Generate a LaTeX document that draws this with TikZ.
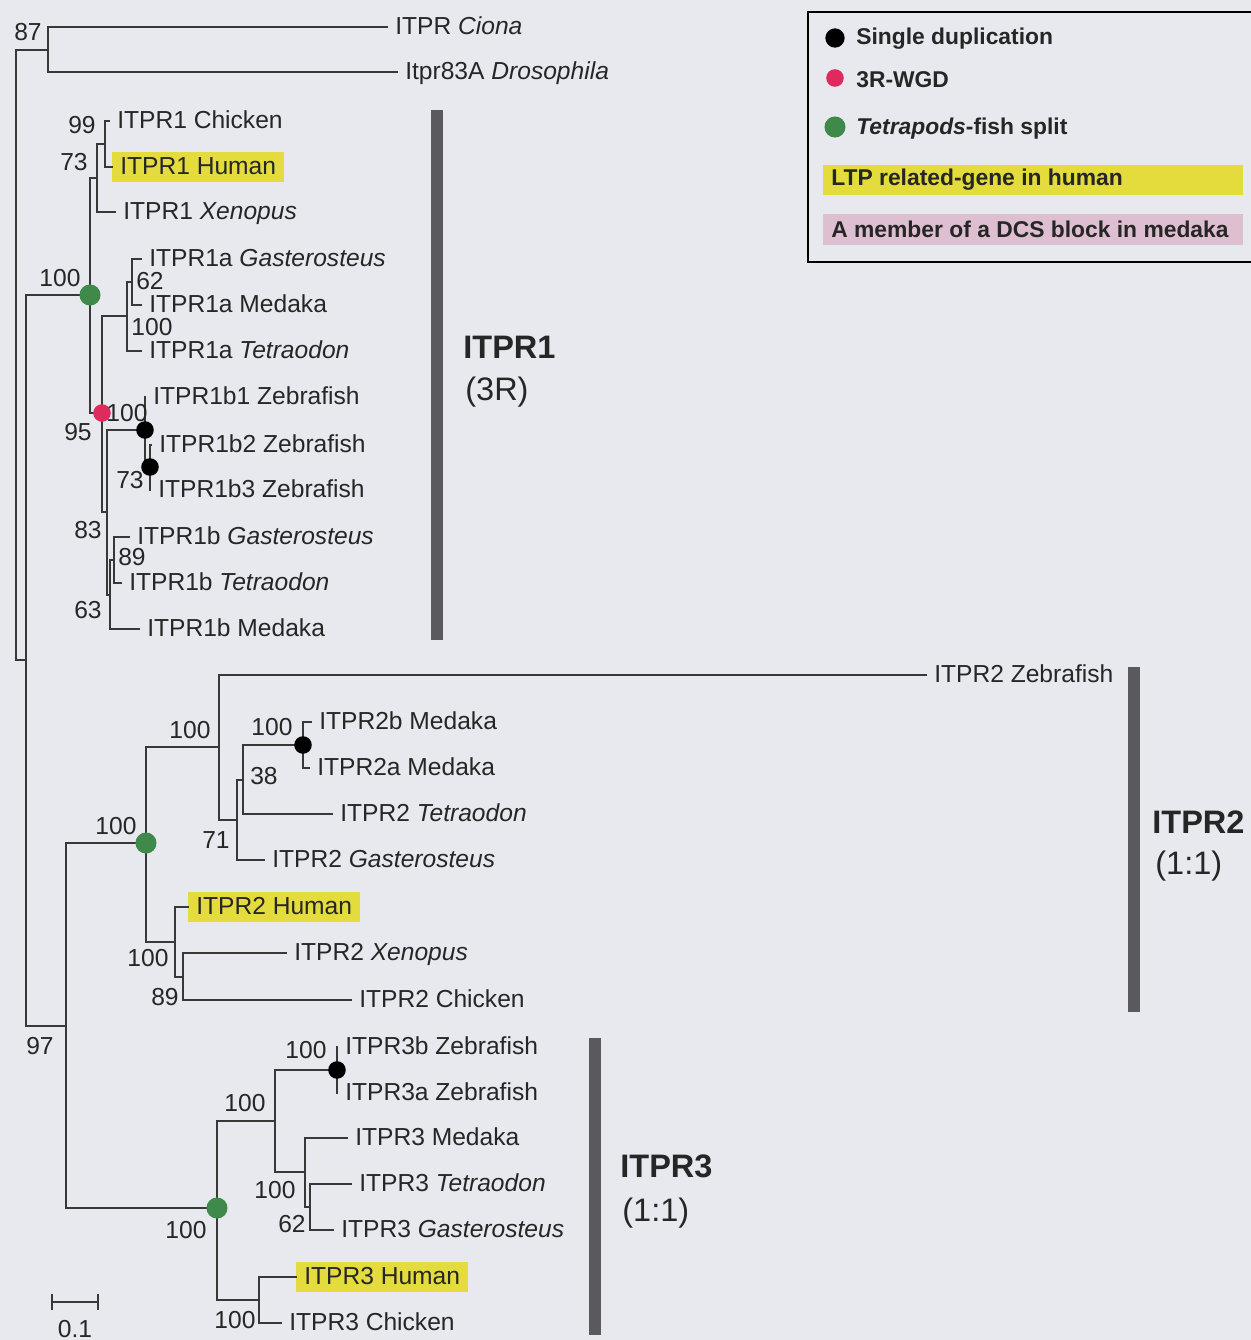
\documentclass[tikz,border=0pt]{standalone}
\usepackage{fontspec}
\setmainfont{Liberation Sans}
\usepackage{xcolor}
\usepackage{tikz}

\definecolor{bgcol}{HTML}{E7E9EE}
\definecolor{hlyellow}{HTML}{E3DC3C}
\definecolor{hlpink}{HTML}{DEBFD2}
\definecolor{splitgreen}{HTML}{3F8A4B}
\definecolor{wgdred}{HTML}{DE2A5C}
\definecolor{barcol}{HTML}{5A5A5E}
\definecolor{linecol}{HTML}{383838}

\begin{document}
\begin{tikzpicture}[x=0.02cm,y=-0.02cm,
  every node/.style={font=\fontsize{14}{16}\selectfont,text=black!85},
  branch/.style={draw=linecol,line width=1.3pt,line cap=rect},
  leaf/.style={anchor=west,inner xsep=4.5pt,inner ysep=2pt,text height=11pt,text depth=2pt},
  hl/.style={leaf,fill=hlyellow},
  boot/.style={inner sep=0pt},
  cladebar/.style={draw=barcol,line width=6.8pt},
  clade/.style={anchor=west,inner sep=0pt,font=\fontsize{18.5}{22}\selectfont\bfseries},
  cladesub/.style={anchor=west,inner sep=0pt,font=\fontsize{18.5}{22}\selectfont},
  legtext/.style={anchor=west,inner sep=0pt,font=\fontsize{13}{15}\selectfont\bfseries}]
  \fill[bgcol] (0,0) rectangle (1251,1340);
  \useasboundingbox (0,0) rectangle (1251,1340);
  % inner nodes of the tree
  \coordinate (root) at (16,355);
  \coordinate (inv) at (48,50);
  \coordinate (vert) at (26,660);
  \coordinate (g1) at (90,295);
  \coordinate (n73) at (97,178);
  \coordinate (n99) at (105,144);
  \coordinate (r) at (102,413);
  \coordinate (n1a) at (127,316);
  \coordinate (n62) at (132,282);
  \coordinate (n83) at (107,512);
  \coordinate (z1) at (145,430);
  \coordinate (z2) at (150,467);
  \coordinate (n63) at (110,595);
  \coordinate (n89) at (114,560);
  \coordinate (n97) at (66,1026);
  \coordinate (g2) at (146,843);
  \coordinate (n2f) at (219,747);
  \coordinate (n71) at (237,820);
  \coordinate (n38) at (243,780);
  \coordinate (n2m) at (303,745);
  \coordinate (n2t) at (175,942);
  \coordinate (n289) at (183,977);
  \coordinate (g3) at (217,1208);
  \coordinate (n3f) at (275,1121);
  \coordinate (n3z) at (337,1070);
  \coordinate (n3m) at (305,1172);
  \coordinate (n362) at (310,1207);
  \coordinate (n3t) at (259,1300);
  % leaves
  \node[leaf] (cio) at (387,27) {ITPR \textit{Ciona}};
  \node[leaf] (dro) at (397,72) {Itpr83A \textit{Drosophila}};
  \node[leaf] (c1) at (109,121) {ITPR1 Chicken};
  \node[hl] (h1) at (112,167) {ITPR1 Human};
  \node[leaf] (x1) at (115,212) {ITPR1 \textit{Xenopus}};
  \node[leaf] (ag) at (141,259) {ITPR1a \textit{Gasterosteus}};
  \node[leaf] (am) at (141,305) {ITPR1a Medaka};
  \node[leaf] (at) at (141,351) {ITPR1a \textit{Tetraodon}};
  \node[leaf] (zb1) at (145,397) {ITPR1b1 Zebrafish};
  \node[leaf] (zb2) at (151,445) {ITPR1b2 Zebrafish};
  \node[leaf] (zb3) at (150,490) {ITPR1b3 Zebrafish};
  \node[leaf] (bg) at (129,537) {ITPR1b \textit{Gasterosteus}};
  \node[leaf] (bt) at (121,583) {ITPR1b \textit{Tetraodon}};
  \node[leaf] (bm) at (139,629) {ITPR1b Medaka};
  \node[leaf] (z2z) at (926,675) {ITPR2 Zebrafish};
  \node[leaf] (m2b) at (311,722) {ITPR2b Medaka};
  \node[leaf] (m2a) at (309,768) {ITPR2a Medaka};
  \node[leaf] (t2) at (332,814) {ITPR2 \textit{Tetraodon}};
  \node[leaf] (gs2) at (264,860) {ITPR2 \textit{Gasterosteus}};
  \node[hl] (h2) at (188,907) {ITPR2 Human};
  \node[leaf] (x2) at (286,953) {ITPR2 \textit{Xenopus}};
  \node[leaf] (c2) at (351,1000) {ITPR2 Chicken};
  \node[leaf] (z3b) at (337,1047) {ITPR3b Zebrafish};
  \node[leaf] (z3a) at (337,1093) {ITPR3a Zebrafish};
  \node[leaf] (m3) at (347,1138) {ITPR3 Medaka};
  \node[leaf] (t3) at (351,1184) {ITPR3 \textit{Tetraodon}};
  \node[leaf] (gs3) at (333,1230) {ITPR3 \textit{Gasterosteus}};
  \node[hl] (h3) at (296,1277) {ITPR3 Human};
  \node[leaf] (c3) at (281,1323) {ITPR3 Chicken};
  % branches
  \foreach \p/\c in {root/inv,root/vert,vert/g1,vert/n97,g1/n73,g1/r,n73/n99,r/n1a,r/n83,
    n1a/n62,n83/z1,n83/n63,z1/z2,n63/n89,n97/g2,n97/g3,g2/n2f,g2/n2t,n2f/n71,n71/n38,
    n38/n2m,n2t/n289,g3/n3f,g3/n3t,n3f/n3z,n3f/n3m,n3m/n362}
    \draw[branch] (\p) |- (\c);
  \foreach \p/\c in {inv/cio,inv/dro,n99/c1,n99/h1,n73/x1,n62/ag,n62/am,n1a/at,z1/zb1,
    z2/zb2,z2/zb3,n89/bg,n89/bt,n63/bm,n2f/z2z,n2m/m2b,n2m/m2a,n38/t2,n71/gs2,n2t/h2,
    n289/x2,n289/c2,n3z/z3b,n3z/z3a,n3m/m3,n362/t3,n362/gs3,n3t/h3,n3t/c3}
    \draw[branch] (\p) |- (\c.west);
  % events
  \foreach \pt in {g1,g2,g3} {\fill[splitgreen] (\pt) circle (6pt);}
  \foreach \pt in {z1,z2,n2m,n3z} {\fill[black] (\pt) circle (5pt);}
  \fill[wgdred] (r) circle (5pt);
  % bootstrap values
  \foreach \n/\x/\y/\t in {b87/28/32/87,b99/82/125/99,b73/74/162/73,bg1/60/278/100,
    b62/150/281/62,b1a/152/327/100,bz1/127/413/100,b95/78/432/95,bz2/130/480/73,
    b83/88/530/83,b89/132/557/89,b63/88/610/63,b2f/190/730/100,b2m/272/727/100,
    b38/264/776/38,bg2/116/826/100,b71/216/840/71,b2t/148/958/100,b289/165/997/89,
    b97/40/1046/97,b3z/306/1050/100,b3f/245/1103/100,b3m/275/1190/100,
    b362/292/1224/62,bg3/186/1230/100,b3t/235/1320/100}
    \node[boot] (\n) at (\x,\y) {\t};
  % scale bar
  \draw[branch,line cap=butt] (52,1294) -- (52,1310) (52,1302) -- (98,1302) (98,1294) -- (98,1310);
  \node[boot] (sc) at (75,1329) {0.1};
  % clades
  \draw[cladebar] (437,110) -- (437,640);
  \draw[cladebar] (1134,667) -- (1134,1012);
  \draw[cladebar] (595,1038) -- (595,1335);
  \node[clade] (cl1) at (463,347) {ITPR1};
  \node[cladesub] (cs1) at (465,392) {(3R)};
  \node[clade] (cl2) at (1152,822) {ITPR2};
  \node[cladesub] (cs2) at (1155,866) {(1:1)};
  \node[clade] (cl3) at (620,1166) {ITPR3};
  \node[cladesub] (cs3) at (622,1213) {(1:1)};
  % legend
  \draw[line width=1.1pt] (808,12) rectangle (1262,262);
  \fill[black] (835,38) circle (5.5pt);
  \fill[wgdred] (835,78) circle (5pt);
  \fill[splitgreen] (835,127) circle (6pt);
  \node[legtext] (lg1) at (856,39) {Single duplication};
  \node[legtext] (lg2) at (856,80) {3R-WGD};
  \node[legtext] (lg3) at (856,129) {\textit{Tetrapods}-fish split};
  \fill[hlyellow] (823,165) rectangle (1243,195);
  \node[legtext] (lg4) at (831,180) {LTP related-gene in human};
  \fill[hlpink] (823,214) rectangle (1243,245);
  \node[legtext] (lg5) at (831,229) {A member of a DCS block in medaka};
\end{tikzpicture}
\end{document}
